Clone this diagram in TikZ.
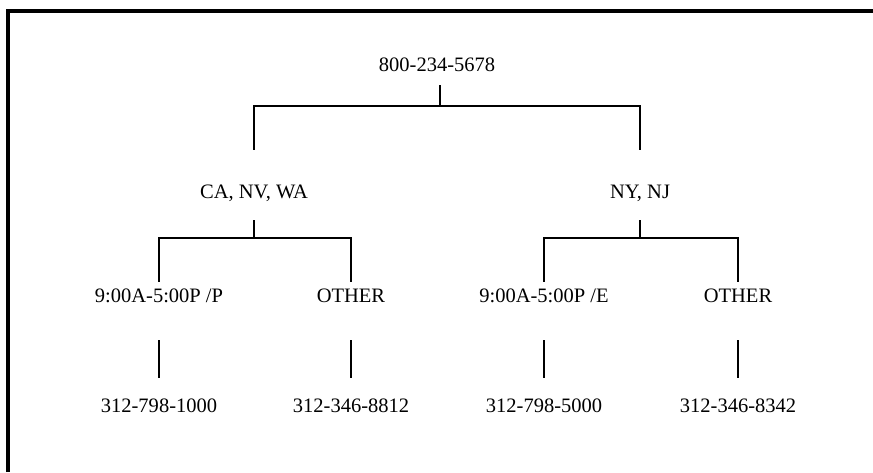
\documentclass[tikz,border=0pt]{standalone}
\usepackage{fontspec}
\setmainfont{Liberation Serif}
\usetikzlibrary{calc}
\tikzstyle{frameline}=[line width=3pt]
\tikzstyle{branch}=[line width=1.4pt]
\tikzstyle{entry}=[font=\fontsize{17.5}{20}\selectfont, inner sep=0pt]
\newcommand{\dropto}[3]{% Syntax: {split} {node} {shorten at node end}
	\draw[branch, shorten >=#3] (#1) -| (#2.center);
}

\begin{document}
\begin{tikzpicture}[x=0.03cm, y=-0.03cm]
	\useasboundingbox (0,0) rectangle (873,472);
	\draw[frameline] (8,472) -- (8,11) -- (873,11);
	% numbers and regions
	\node[entry] (root) at (437,65) {800-234-5678};
	\node[entry] (west) at (254,193) {CA, NV, WA};
	\node[entry] (east) at (640,193) {NY, NJ};
	\node[entry] (wday) at (159,296) {9:00A-5:00P /P};
	\node[entry] (wother) at (351,296) {OTHER};
	\node[entry] (eday) at (544,296) {9:00A-5:00P /E};
	\node[entry] (eother) at (738,296) {OTHER};
	\node[entry] (wdaynum) at (159,406) {312-798-1000};
	\node[entry] (wothernum) at (351,406) {312-346-8812};
	\node[entry] (edaynum) at (544,406) {312-798-5000};
	\node[entry] (eothernum) at (738,406) {312-346-8342};
	% split points
	\coordinate (split) at (440,106);
	\coordinate (wsplit) at (254,238);
	\coordinate (esplit) at (640,238);
	\draw[branch, shorten <=0.6cm] (root.center -| split) -- (split);
	\dropto{split}{west}{1.29cm}
	\dropto{split}{east}{1.29cm}
	\draw[branch, shorten <=0.81cm] (west.center) -- (wsplit);
	\draw[branch, shorten <=0.81cm] (east.center) -- (esplit);
	\dropto{wsplit}{wday}{0.42cm}
	\dropto{wsplit}{wother}{0.42cm}
	\dropto{esplit}{eday}{0.42cm}
	\dropto{esplit}{eother}{0.42cm}
	\foreach \a/\b in {wday/wdaynum, wother/wothernum, eday/edaynum, eother/eothernum}
		\draw[branch, shorten <=1.32cm, shorten >=0.84cm] (\a.center) -- (\b.center);
\end{tikzpicture}
\end{document}
